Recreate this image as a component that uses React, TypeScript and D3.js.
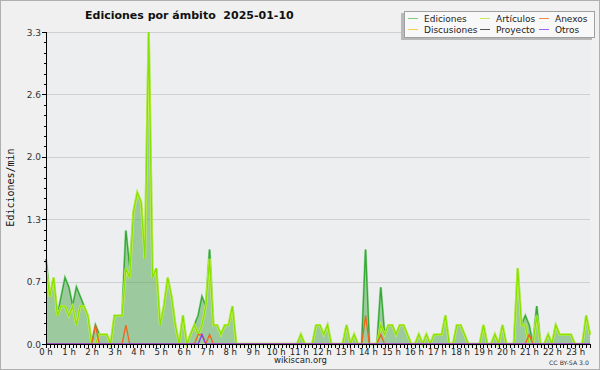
import React from 'react';
import * as d3 from 'd3';

const hourLabels = ['0 h','1 h','2 h','3 h','4 h','5 h','6 h','7 h','8 h','9 h','10 h','11 h','12 h','13 h','14 h','15 h','16 h','17 h','18 h','19 h','20 h','21 h','22 h','23 h'];
const yTickValues = [0, 0.66, 1.32, 1.98, 2.64, 3.3];
const yTickLabels = ['0.0', '0.7', '1.3', '2.0', '2.6', '3.3'];

// edits/min per 10-minute slot (144 slots)
const ediciones = [
  0.9, 0.5, 0.7, 0.3, 0.5, 0.7, 0.6, 0.4, 0.6, 0.5, 0.4, 0.3,
  0, 0.2, 0.1, 0.1, 0.1, 0, 0.3, 0.3, 0.3, 1.2, 0.8, 1.4,
  1.6, 1.5, 0.9, 3.3, 0.7, 0.8, 0.2, 0.4, 0.7, 0.5, 0.2, 0,
  0.3, 0, 0.1, 0.2, 0.3, 0.5, 0.4, 1.0, 0.2, 0.2, 0.1, 0.2,
  0.2, 0.4, 0, 0, 0, 0, 0, 0, 0, 0, 0, 0,
  0, 0, 0, 0, 0, 0, 0, 0.1, 0, 0, 0, 0.2,
  0.2, 0.1, 0.2, 0, 0, 0, 0, 0.2, 0, 0.1, 0, 0,
  1.0, 0, 0, 0, 0.6, 0.1, 0.2, 0.2, 0.1, 0.2, 0.2, 0.1,
  0, 0, 0.1, 0, 0.1, 0, 0.1, 0.1, 0.1, 0.3, 0, 0,
  0.2, 0.2, 0.1, 0, 0, 0, 0, 0.2, 0, 0, 0.1, 0,
  0.2, 0, 0, 0, 0.8, 0.2, 0.3, 0.2, 0, 0.4, 0, 0,
  0.1, 0, 0.2, 0.1, 0.1, 0.1, 0.1, 0, 0, 0, 0.3, 0.1,
];
const articulos = [
  0.8, 0.5, 0.7, 0.3, 0.4, 0.4, 0.3, 0.4, 0.2, 0.4, 0.4, 0.3,
  0, 0, 0.1, 0.1, 0.1, 0, 0.3, 0.3, 0.3, 0.8, 0.7, 1.4,
  1.6, 1.5, 0.9, 3.3, 0.7, 0.8, 0.2, 0.4, 0.7, 0.5, 0.2, 0,
  0.3, 0, 0.1, 0.2, 0.1, 0.2, 0.4, 0.9, 0.2, 0.2, 0.1, 0.2,
  0.2, 0.4, 0, 0, 0, 0, 0, 0, 0, 0, 0, 0,
  0, 0, 0, 0, 0, 0, 0, 0.1, 0, 0, 0, 0.2,
  0.2, 0.1, 0.2, 0, 0, 0, 0, 0.2, 0, 0.1, 0, 0,
  0, 0, 0, 0, 0.2, 0.1, 0.2, 0.2, 0.1, 0.2, 0.2, 0.1,
  0, 0, 0.1, 0, 0.1, 0, 0.1, 0.1, 0.1, 0.3, 0, 0,
  0.2, 0.2, 0.1, 0, 0, 0, 0, 0.2, 0, 0, 0.1, 0,
  0.2, 0, 0, 0, 0.8, 0.2, 0.2, 0, 0, 0.3, 0, 0,
  0.1, 0, 0.2, 0.1, 0.1, 0.1, 0.1, 0, 0, 0, 0.3, 0.1,
];
const anexos = [
  0, 0, 0, 0, 0, 0, 0, 0, 0, 0, 0, 0,
  0, 0.2, 0, 0, 0, 0, 0, 0, 0, 0.2, 0, 0,
  0, 0, 0, 0, 0, 0, 0, 0, 0, 0, 0, 0,
  0, 0, 0, 0, 0.1, 0.1, 0, 0.1, 0, 0, 0, 0,
  0, 0, 0, 0, 0, 0, 0, 0, 0, 0, 0, 0,
  0, 0, 0, 0, 0, 0, 0, 0, 0, 0, 0, 0,
  0, 0, 0, 0, 0, 0, 0, 0, 0, 0, 0, 0,
  0.3, 0, 0, 0, 0.1, 0, 0, 0, 0, 0, 0, 0,
  0, 0, 0, 0, 0, 0, 0, 0, 0, 0, 0, 0,
  0, 0, 0, 0, 0, 0, 0, 0, 0, 0, 0, 0,
  0, 0, 0, 0, 0, 0, 0, 0.1, 0, 0, 0, 0,
  0, 0, 0, 0, 0, 0, 0, 0, 0, 0, 0, 0,
];
const otros = [
  0, 0, 0, 0, 0, 0, 0, 0, 0, 0, 0, 0,
  0, 0, 0, 0, 0, 0, 0, 0, 0, 0, 0, 0,
  0, 0, 0, 0, 0, 0, 0, 0, 0, 0, 0, 0,
  0, 0, 0, 0, 0, 0.1, 0, 0, 0, 0, 0, 0,
  0, 0, 0, 0, 0, 0, 0, 0, 0, 0, 0, 0,
  0, 0, 0, 0, 0, 0, 0, 0, 0, 0, 0, 0,
  0, 0, 0, 0, 0, 0, 0, 0, 0, 0, 0, 0,
  0, 0, 0, 0, 0, 0, 0, 0, 0, 0, 0, 0,
  0, 0, 0, 0, 0, 0, 0, 0, 0, 0, 0, 0,
  0, 0, 0, 0, 0, 0, 0, 0, 0, 0, 0, 0,
  0, 0, 0, 0, 0, 0, 0, 0, 0, 0, 0, 0,
  0, 0, 0, 0, 0, 0, 0, 0, 0, 0, 0, 0,
];

const legendNames = ['Ediciones', 'Discusiones', 'Artículos', 'Proyecto', 'Anexos', 'Otros'];
const legendColors = ['#7ccc7c', '#f3cf4a', '#c4ec5a', '#555555', '#f08a4a', '#a060f0'];

const W = 600, H = 370;
const M = { left: 46, right: 590, top: 32, bottom: 344 };

export default function App() {
  const x = d3.scaleLinear().domain([0, 143]).range([M.left, M.right]);
  const y = d3.scaleLinear().domain([0, 3.3]).range([M.bottom, M.top]);
  const area = d3.area<number>().x((_, i) => x(i)).y0(y(0)).y1((d) => y(d));
  const line = d3.line<number>().x((_, i) => x(i)).y((d) => y(d));

  const minorX = d3.range(0, 144);
  const minorY = d3.range(0, 31).map((k) => k * 0.11);

  const font = 'DejaVu Sans, sans-serif';

  return (
    <div style={{ position: 'fixed', left: 0, top: 0 }}>
      <svg width={W} height={H} style={{ display: 'block' }}>
        <rect x={0.5} y={0.5} width={W - 1} height={H - 1} fill="#f0f0f0" stroke="#b0b0b0" />
        <rect x={M.left} y={M.top} width={M.right - M.left} height={M.bottom - M.top} fill="#edeef0" />
        {yTickValues.slice(1).map((v) => (
          <line key={v} x1={M.left} x2={M.right} y1={Math.round(y(v)) + 0.5} y2={Math.round(y(v)) + 0.5} stroke="#cfcfcf" />
        ))}
        <path d={area(ediciones) || ''} fill="#4ca349" fillOpacity={0.5} />
        <path d={line(ediciones) || ''} fill="none" stroke="#9bd49b" strokeWidth={2.4} />
        <path d={line(ediciones) || ''} fill="none" stroke="#35a835" strokeWidth={1.3} />
        <path d={line(articulos) || ''} fill="none" stroke="#cdf25a" strokeWidth={2.4} />
        <path d={line(articulos) || ''} fill="none" stroke="#86e000" strokeWidth={1.3} />
        <path d={line(anexos) || ''} fill="none" stroke="#f0641e" strokeWidth={1.3} />
        <path d={line(otros) || ''} fill="none" stroke="#8a3ee8" strokeWidth={1.3} />

        {/* axes */}
        <line x1={M.left + 0.5} x2={M.left + 0.5} y1={M.top} y2={M.bottom + 1} stroke="#000" />
        <line x1={M.left} x2={M.right} y1={M.bottom + 0.5} y2={M.bottom + 0.5} stroke="#000" />
        {minorY.map((v, k) => (
          <line key={'ym' + k} x1={M.left - (k % 6 === 0 ? 4 : 2)} x2={M.left} y1={Math.round(y(v)) + 0.5} y2={Math.round(y(v)) + 0.5} stroke="#000" />
        ))}
        {minorX.map((k) => (
          <line key={'xm' + k} x1={Math.round(x(k)) + 0.5} x2={Math.round(x(k)) + 0.5} y1={M.bottom} y2={M.bottom + 4} stroke="#000" />
        ))}
        {yTickValues.map((v, k) => (
          <text key={'yl' + k} x={41} y={y(v) + 3.5} textAnchor="end" fontFamily={font} fontSize={9} fill="#333">{yTickLabels[k]}</text>
        ))}
        {hourLabels.map((t, k) => (
          <text key={'xl' + k} x={x(k * 6) + k * 0.2} y={354.5} textAnchor="middle" fontFamily={font} fontSize={8.5} fill="#222">{t}</text>
        ))}
        <text transform={`translate(13.5,187.5) rotate(-90)`} textAnchor="middle" fontFamily="DejaVu Sans Mono, monospace" fontSize={10} fill="#111">Ediciones/min</text>

        {/* title */}
        <text x={85} y={19} xmlSpace="preserve" style={{ whiteSpace: 'pre' }} fontFamily={font} fontWeight="bold" fontSize={11} fill="#111">{'Ediciones por ámbito  2025-01-10'}</text>

        {/* legend */}
        <rect x={401} y={13} width={191} height={27} fill="#b8b8b8" />
        <rect x={404.5} y={11.5} width={190} height={26} fill="#f8f8f8" stroke="#a0a0a0" />
        {legendNames.map((n, k) => {
          const col = Math.floor(k / 2), row = k % 2;
          const lx = [408, 480, 539][col];
          const ly = [18.5, 29.5][row];
          return (
            <g key={n}>
              <line x1={lx} x2={lx + 10} y1={ly} y2={ly} stroke={legendColors[k]} strokeWidth={1} />
              <text x={lx + 16} y={ly + 3.5} fontFamily={font} fontSize={9} fill="#222">{n}</text>
            </g>
          );
        })}

        {/* footer */}
        <text x={300.5} y={363} textAnchor="middle" fontFamily={font} fontSize={8.5} fill="#222">wikiscan.org</text>
        <text x={549} y={364.5} textLength={40} lengthAdjust="spacingAndGlyphs" fontFamily={font} fontSize={6} fill="#333">CC BY-SA 3.0</text>
      </svg>
    </div>
  );
}
